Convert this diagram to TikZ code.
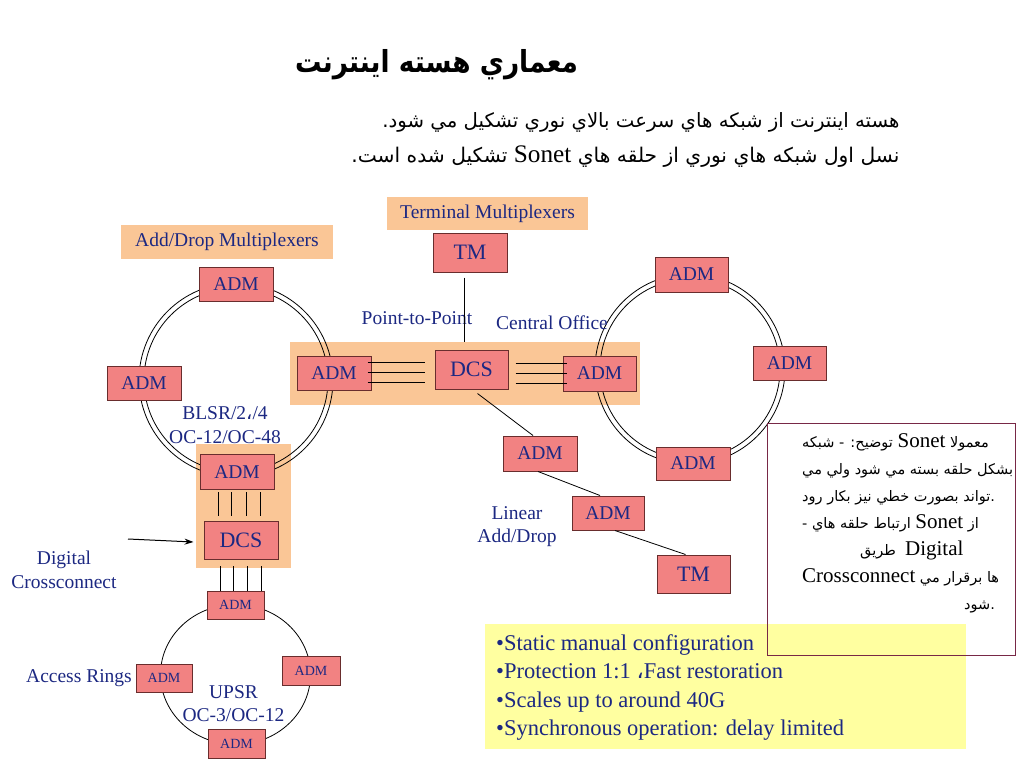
\documentclass[tikz,border=0pt]{standalone}
\usepackage{fontspec}
\usepackage{graphicx}
\setmainfont{Liberation Serif}
\newfontfamily\ar[Script=Arabic]{DejaVu Sans}
\TeXXeTstate=1
\usetikzlibrary{arrows.meta,calc}
\definecolor{txtblue}{RGB}{28,40,130}
\definecolor{pinkfill}{RGB}{242,130,130}
\definecolor{pinkdraw}{RGB}{105,45,45}
\definecolor{peach}{RGB}{250,198,150}
\definecolor{lyellow}{RGB}{255,255,160}
\definecolor{notedraw}{RGB}{120,40,70}
\newcommand\fsz[1]{\fontsize{#1}{#1}\selectfont}
\newcommand\lat[1]{{\rmfamily\fsz{21}#1}}
\begin{document}
\begin{tikzpicture}[x=1pt,y=-1pt,
  unit/.style 2 args={draw=pinkdraw, fill=pinkfill, line width=1pt, minimum width=#1, minimum height=#2, inner sep=0pt, text=txtblue, font=\fsz{19.5}},
  lbl/.style={text=txtblue, font=\fontsize{19.5}{23.5}\selectfont, inner sep=0pt, align=center},
  band/.style={fill=peach, draw=none, inner sep=0pt},
  wire/.style={draw=black, line width=0.8pt},
  ring/.style={draw=black, line width=0.8pt},
  note/.style={inner sep=0pt, text=black, font=\ar\fsz{14.5}}]
\useasboundingbox (0,0) rectangle (1024,768);
\fill[white] (0,0) rectangle (1024,768);

% title and intro lines
\node (title) at (436.5,65) {\scalebox{1}[1.15]{\resizebox{283pt}{!}{\ar\bfseries\fsz{28}\beginR معماري هسته اينترنت\endR}}};
\node[anchor=base east] (intro1) at (903,127) {\resizebox{517pt}{!}{\ar\fsz{20}\beginR هسته اينترنت از شبکه هاي سرعت بالاي نوري تشکيل مي شود.\endR}};
\node[anchor=base east] (intro2) at (903,162) {\resizebox{548pt}{!}{\ar\fsz{20}\beginR نسل اول شبکه هاي نوري از حلقه هاي {\rmfamily\fsz{25}Sonet} تشکيل شده است.\endR}};

% bands
\node[band, lbl, minimum width=212pt, minimum height=34pt] (adl) at (227,241.5) {Add/Drop Multiplexers};
\node[band, lbl, minimum width=201pt, minimum height=33pt] (tml) at (487.5,213.5) {Terminal Multiplexers};
\node[band, minimum width=350pt, minimum height=63pt] (co) at (465,373.5) {};
\node[band, minimum width=95pt, minimum height=124pt] (dx) at (243.5,506) {};

% rings
\draw[ring] (236,380) circle[radius=97];
\draw[ring] (236,380) circle[radius=92];
\draw[ring] (690,369) circle[radius=95];
\draw[ring] (690,369) circle[radius=90];
\draw[ring] (235.5,674.5) ellipse[x radius=75, y radius=70];

% labels
\node[lbl] (p2p) at (417,318) {Point-to-Point};
\node[lbl] (cof) at (552,323) {Central Office};
\node[lbl] (blsr) at (225,425) {BLSR/2{\ar ،}/4\\OC-12/OC-48};
\node[lbl] (dig) at (64,570) {Digital\\Crossconnect};
\node[lbl, anchor=east] (acc) at (132,678) {Access Rings};
\node[lbl] (upsr) at (233.5,703.5) {UPSR\\OC-3/OC-12};
\node[lbl] (lin) at (517,526.5) {Linear\\Add/Drop};

% boxes
\node[unit={74pt}{34pt}] (a1) at (236,284) {ADM};
\node[unit={74pt}{34pt}] (a2) at (144,383) {ADM};
\node[unit={74pt}{34pt}] (a3) at (334,373) {ADM};
\node[unit={74pt}{35pt}] (a4) at (237,472) {ADM};
\node[unit={73pt}{39pt}, font=\fsz{22}] (dcs) at (471.5,369.5) {DCS};
\node[unit={74pt}{39pt}, font=\fsz{22}] (tm) at (470,252.5) {TM};
\node[unit={73pt}{35pt}] (ar) at (599.5,373.5) {ADM};
\node[unit={73pt}{35pt}] (r1) at (691.5,274.5) {ADM};
\node[unit={73pt}{34pt}] (r2) at (789.5,363) {ADM};
\node[unit={74pt}{33pt}] (r3) at (693,463.5) {ADM};
\node[unit={74pt}{35pt}] (la1) at (540,453.5) {ADM};
\node[unit={72pt}{34pt}] (la2) at (608,513) {ADM};
\node[unit={73pt}{38pt}, font=\fsz{22}] (ltm) at (693.5,574) {TM};
\node[unit={74pt}{38pt}, font=\fsz{22}] (ldcs) at (241,540) {DCS};
\node[unit={57pt}{28pt}, font=\fsz{14}] (s1) at (235.5,605) {ADM};
\node[unit={56pt}{28pt}, font=\fsz{14}] (s2) at (164,678) {ADM};
\node[unit={58pt}{29pt}, font=\fsz{14}] (s3) at (311,670.5) {ADM};
\node[unit={57pt}{29pt}, font=\fsz{14}] (s4) at (236.5,743.5) {ADM};

% connectors
\coordinate (tmfoot) at (464,342);
\draw[wire] ([xshift=-6pt,yshift=-5pt]tm.south) -- (tmfoot);
\foreach \d in {11,1,-9}
  \draw[wire] let \p1=(a3.east), \p2=(dcs.west) in (\x1-4pt,\y1+\d pt) -- (\x2-10pt,\y1+\d pt);
\foreach \d in {10,0,-10}
  \draw[wire] let \p1=(dcs.east), \p2=(ar.west) in (\x1+7pt,\y2+\d pt) -- (\x2+4pt,\y2+\d pt);
\draw[wire] ([xshift=6pt,yshift=-4pt]dcs.south) -- ([xshift=-7pt]la1.north);
\draw[wire] ([xshift=-2pt]la1.south) -- ([xshift=-8pt]la2.north);
\draw[wire] ([xshift=7pt]la2.south) -- ([xshift=-8pt]ltm.north);
\foreach \d in {-19,-6,9,23}
  \draw[wire] ([xshift=\d pt,yshift=-2pt]a4.south) -- ++(0,24);
\foreach \d in {-15.5,-2.5,11.5,25.5}
  \draw[wire] ([xshift=\d pt]s1.north) -- ++(0,-25);
\coordinate (arrtail) at (128,539);
\draw[line width=1pt, -{Stealth[length=9pt,width=6pt]}] (arrtail) -- ([xshift=-10pt,yshift=-2pt]ldcs.west);

% yellow box
\node[fill=lyellow, minimum width=481pt, minimum height=125pt, inner sep=0pt] (yb) at (725.5,686.5) {};
\node[anchor=west, text=txtblue, inner sep=0pt, align=left, font=\fontsize{22.5}{28.6}\selectfont] (ybt) at (496,687.5)
  {•Static manual configuration\\•Protection 1:1 {\ar ،}Fast restoration\\•Scales up to around 40G\\•Synchronous operation: delay limited};

% note box
\node[draw=notedraw, line width=1pt, minimum width=248pt, minimum height=232pt, inner sep=0pt] (nb) at (891,539) {};
\node[note, anchor=base west] (n1) at (802,447) {\hbox{\beginR توضيح: - شبکه\endR\ \lat{Sonet} \beginR معمولا\endR}};
\node[note, anchor=base west] (n2) at (802,474) {\hbox{\beginR بشکل حلقه بسته مي شود ولي مي\endR}};
\node[note, anchor=base west] (n3) at (802,501) {\hbox{\beginR تواند بصورت خطي نيز بکار رود\endR.}};
\node[note, anchor=base west] (n4) at (802,528) {\hbox{- \beginR ارتباط حلقه هاي\endR\ \lat{Sonet} \beginR از\endR}};
\node[note, anchor=base west] (n5) at (860,555) {\hbox{\beginR طريق\endR\ \ \lat{Digital}}};
\node[note, anchor=base west] (n6) at (802,582) {\hbox{\lat{Crossconnect} \beginR ها برقرار مي\endR}};
\node[note, anchor=base west] (n7) at (964,609) {\hbox{\beginR شود\endR.}};
\end{tikzpicture}
\end{document}
